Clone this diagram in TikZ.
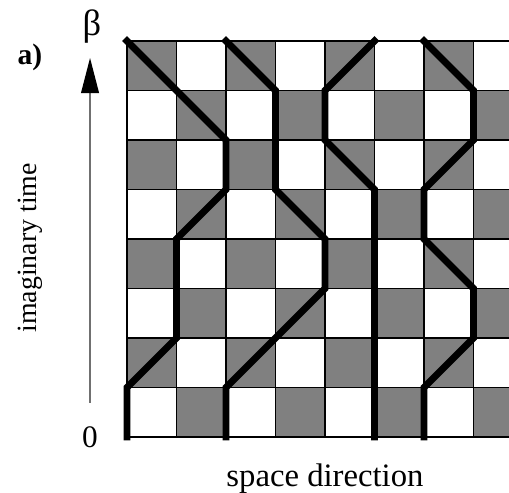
\documentclass[tikz,border=0pt]{standalone}
\usepackage{fontspec}
\setmainfont{Liberation Serif}
\usepackage{tikz}
\usetikzlibrary{arrows.meta}
\definecolor{PlaqGray}{HTML}{808080}
\definecolor{AxisGray}{HTML}{707070}

\begin{document}
\begin{tikzpicture}[
        plaq/.style={fill=PlaqGray},
        gridline/.style={line width=0.85pt, draw=black},
        worldline/.style={line width=4pt, line cap=rect, line join=miter},
        axis/.style={-{Triangle[length=0.71cm, width=0.36cm, color=black]}, line width=0.75pt, draw=AxisGray},
        lbl/.style={font=\fontsize{18}{20}\selectfont, inner sep=0pt}
      ]
        \useasboundingbox (-2.566,-1.131) rectangle (7.717,8.828);
        \begin{scope}
          \clip (-2.566,-1.131) rectangle (7.717,8.828);
          % checkerboard of plaquettes
          \foreach \i in {0,...,7} {
            \foreach \j in {0,...,7} {
              \pgfmathtruncatemacro{\oddsum}{mod(\i+\j,2)}
              \ifnum\oddsum=1
                \fill[plaq] (\i,\j) rectangle ++(1,1);
              \fi
            }
          }
          \draw[gridline] (0,0) grid (8,8);
          % world lines
          \draw[worldline] (0,0) -- (0,1) -- (1,2) -- (1,4) -- (2,5) -- (2,6) -- (0,8);
          \draw[worldline] (2,0) -- (2,1) -- (4,3) -- (4,4) -- (3,5) -- (3,7) -- (2,8);
          \draw[worldline] (5,0) -- (5,5) -- (4,6) -- (4,7) -- (5,8);
          \draw[worldline] (6,0) -- (6,1) -- (7,2) -- (7,3) -- (6,4) -- (6,5) -- (7,6) -- (7,7) -- (6,8);
        \end{scope}
        % axis and labels
        \coordinate (tlow) at (-0.747,0.687);
        \coordinate (thigh) at (-0.747,7.657);
        \draw[axis] (tlow) -- (thigh);
        \node[lbl, font=\fontsize{21}{23}\selectfont] (beta) at (-0.707,8.283) {β};
        \node[lbl] (zero) at (-0.747,0.0) {0};
        \node[lbl, font=\bfseries\fontsize{17}{19}\selectfont] (panel) at (-1.96,7.677) {a)};
        \node[lbl, font=\fontsize{16}{18}\selectfont, rotate=90] (itime) at (-1.96,3.82) {imaginary time};
        \node[lbl, font=\fontsize{18.8}{20}\selectfont, anchor=base] (sdir) at (4,-1.01) {space direction};
      \end{tikzpicture}
\end{document}
